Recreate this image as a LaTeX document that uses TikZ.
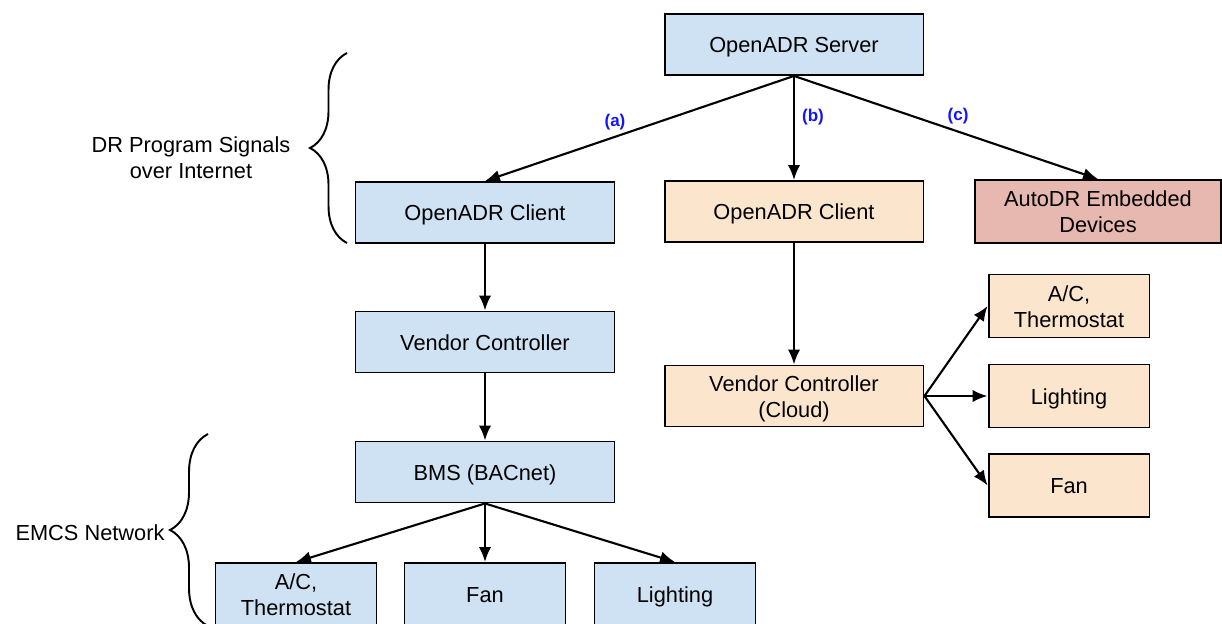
\documentclass[tikz,border=0pt]{standalone}
\usepackage{fontspec}
\setmainfont{Liberation Sans}
\usetikzlibrary{decorations.pathreplacing, arrows.meta}
\definecolor{boxblue}{RGB}{207,226,243}
\definecolor{boxorange}{RGB}{252,229,205}
\definecolor{boxred}{RGB}{230,184,175}
\definecolor{lblblue}{RGB}{20,20,250}
\tikzset{
	box/.style={draw, line width=1.1pt, minimum width=5.18cm, minimum height=1.22cm, align=center, inner sep=1pt, text height=11pt, text depth=1.5pt, font=\fontsize{12.4}{14.7}\selectfont},
	twoline/.style={text height=24.7pt, text depth=0.5pt},
	smallbox/.style={box, minimum width=3.22cm, minimum height=1.26cm},
	lbl/.style={text=lblblue, font=\fontsize{9.7}{11}\selectfont\bfseries},
	txt/.style={align=center, font=\fontsize{12.4}{14.7}\selectfont},
	conn/.style={-{Latex[length=8.5pt, width=7pt]}, line width=1.2pt},
	bracket/.style={decorate, line width=1.1pt, decoration={brace, amplitude=#1}}
}
\begin{document}
\begin{tikzpicture}[x=0.02cm, y=-0.02cm]
		\useasboundingbox (0,0) rectangle (1222,624);
		% top part
		\node[box, fill=boxblue] (server) at (794,44.5) {OpenADR Server};
		\node[box, fill=boxblue] (clientA) at (485,212.5) {OpenADR Client};
		\node[box, fill=boxorange] (clientB) at (794,211.5) {OpenADR Client};
		\node[box, twoline, fill=boxred, minimum width=4.92cm, minimum height=1.26cm] (autodr) at (1098,211.5) {AutoDR Embedded\\Devices};
		% path (a)
		\node[box, fill=boxblue] (vendorA) at (485,342) {Vendor Controller};
		\node[box, fill=boxblue] (bms) at (485,472) {BMS (BACnet)};
		\node[smallbox, twoline, fill=boxblue] (acA) at (296,594.5) {A/C,\\Thermostat};
		\node[smallbox, fill=boxblue] (fanA) at (485,594.5) {Fan};
		\node[smallbox, fill=boxblue] (lightA) at (675,594.5) {Lighting};
		% path (b)
		\node[box, twoline, fill=boxorange] (vendorB) at (794,396) {Vendor Controller\\(Cloud)};
		\node[smallbox, twoline, fill=boxorange] (acB) at (1069,306) {A/C,\\Thermostat};
		\node[smallbox, fill=boxorange] (lightB) at (1069,396) {Lighting};
		\node[smallbox, fill=boxorange] (fanB) at (1069,485.5) {Fan};
		% connectors
		\draw[conn] (server.south) -- (clientA.north);
		\draw[conn] (server.south) -- (clientB.north);
		\draw[conn] (server.south) -- (autodr.north);
		\draw[conn] (clientA) -- (vendorA);
		\draw[conn] (vendorA) -- (bms);
		\draw[conn] (bms.south) -- (acA.north);
		\draw[conn] (bms.south) -- (fanA.north);
		\draw[conn] (bms.south) -- (lightA.north);
		\draw[conn] (clientB) -- (vendorB);
		\draw[conn] (vendorB.east) -- (acB.west);
		\draw[conn] (vendorB.east) -- (lightB.west);
		\draw[conn] (vendorB.east) -- (fanB.west);
		\node[lbl] (la) at (615,122) {(a)};
		\node[lbl] (lb) at (813,117) {(b)};
		\node[lbl] (lc) at (958,116) {(c)};
		% braces
		\draw[bracket=0.74cm] (347,243) -- (347,53);
		\node[txt] (dr) at (191,158) {DR Program Signals\\over Internet};
		\draw[bracket=0.76cm] (208,626) -- (208,434);
		\node[txt] (emcs) at (90,533) {EMCS Network};
	\end{tikzpicture}
\end{document}
